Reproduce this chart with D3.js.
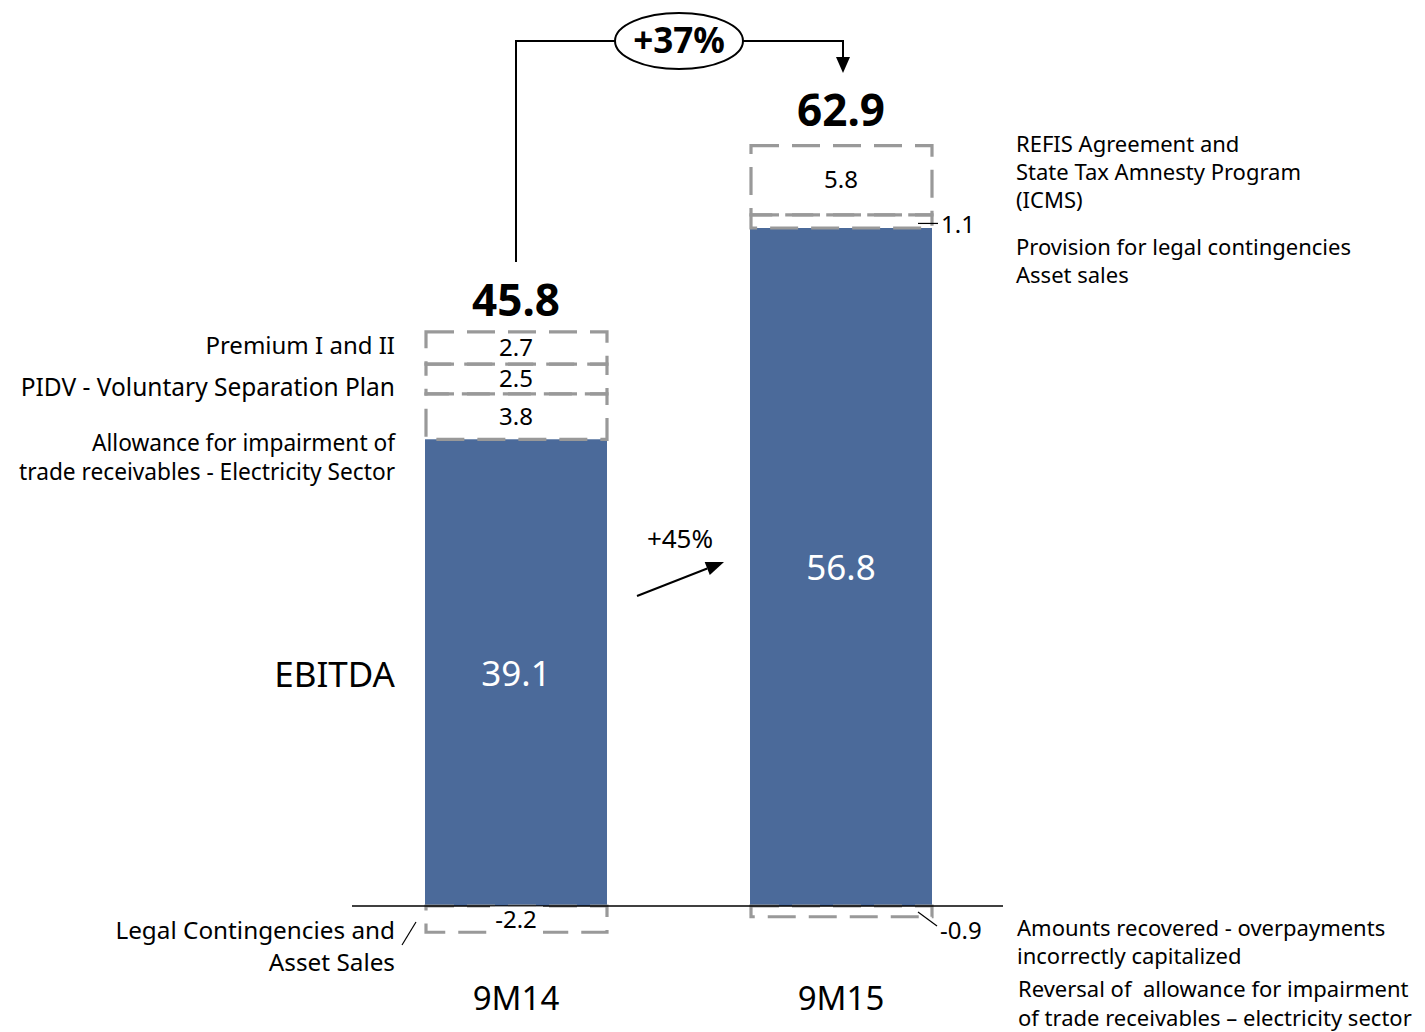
<!DOCTYPE html>
<html>
<head>
<meta charset="utf-8">
<script src="https://cdn.jsdelivr.net/npm/d3@7"></script>
<style>
  html, body { margin: 0; padding: 0; background: #fff; }
  svg { display: block; font-family: "Noto Sans", "Open Sans", sans-serif; }
  text { white-space: pre; }
</style>
</head>
<body>
<svg id="chart" width="1425" height="1032"></svg>
<script>
// Periods and EBITDA values (R$ billions)
const periods = ["9M14", "9M15"];
const ebitda = [39.1, 56.8];
const totals = [45.8, 62.9];
// Positive one-off items stacked above EBITDA, bottom to top
const upItems9M14 = [3.8, 2.5, 2.7];
const upItems9M15 = [1.1, 5.8];
// Negative one-off items below the baseline
const downItems = [-2.2, -0.9];
const growthTotal = "+37%";
const growthEbitda = "+45%";

const leftNotes = [
  { text: "Premium I and II", y: 354, size: 24 },
  { text: "PIDV - Voluntary Separation Plan", y: 396, size: 24.5 },
  { text: "Allowance for impairment of", y: 451, size: 22.7 },
  { text: "trade receivables - Electricity Sector", y: 480, size: 22.7 },
  { text: "Legal Contingencies and", y: 939, size: 24.3 },
  { text: "Asset Sales", y: 971, size: 24.3 }
];
const rightNotes = [
  { text: "REFIS Agreement and", y: 152, x: 1016 },
  { text: "State Tax Amnesty Program", y: 180, x: 1016 },
  { text: "(ICMS)", y: 208, x: 1016 },
  { text: "Provision for legal contingencies", y: 255, x: 1016 },
  { text: "Asset sales", y: 283, x: 1016 },
  { text: "Amounts recovered - overpayments", y: 936, x: 1017 },
  { text: "incorrectly capitalized", y: 964, x: 1017 },
  { text: "Reversal of  allowance for impairment", y: 997, x: 1018 },
  { text: "of trade receivables \u2013 electricity sector", y: 1026, x: 1018 }
];

const svg = d3.select("#chart");
const barColor = "#4b6a9a";
const dashColor = "#999999";
const dash = "28,13";
const barW = 182;

const x = d3.scalePoint().domain(periods).range([516, 841]);
const y = d3.scaleLinear().domain([0, 56.8]).range([906, 228]);

// EBITDA bars
svg.selectAll("rect.bar").data(periods).join("rect")
  .attr("class", "bar")
  .attr("x", d => x(d) - barW / 2)
  .attr("width", barW)
  .attr("y", (d, i) => y(ebitda[i]))
  .attr("height", (d, i) => y(0) - y(ebitda[i]))
  .attr("fill", barColor);

// Stacked dashed boxes for one-off items
function stackUp(items, base) {
  let acc = base;
  return items.map(v => { const s = { v, y0: acc, y1: acc + v }; acc += v; return s; });
}
const stacks = [stackUp(upItems9M14, ebitda[0]), stackUp(upItems9M15, ebitda[1])];

stacks.forEach((segs, i) => {
  const cx = x(periods[i]);
  svg.append("g").selectAll("rect").data(segs).join("rect")
    .attr("x", cx - barW / 2 + 1)
    .attr("width", barW - 1)
    .attr("y", d => y(d.y1))
    .attr("height", d => y(d.y0) - y(d.y1))
    .attr("fill", "none")
    .attr("stroke", dashColor)
    .attr("stroke-width", 3.2)
    .attr("stroke-dasharray", dash);
});

// Negative boxes below baseline
downItems.forEach((v, i) => {
  const cx = x(periods[i]);
  svg.append("rect")
    .attr("x", cx - barW / 2 + 1)
    .attr("width", barW - 1)
    .attr("y", y(0))
    .attr("height", y(v) - y(0))
    .attr("fill", "none")
    .attr("stroke", dashColor)
    .attr("stroke-width", 3.2)
    .attr("stroke-dasharray", dash);
});

// Baseline
svg.append("line")
  .attr("x1", 352).attr("x2", 1003)
  .attr("y1", y(0)).attr("y2", y(0))
  .attr("stroke", "#000").attr("stroke-width", 1.5);

// Segment labels, 9M14 stack (centered)
stacks[0].forEach(s => {
  svg.append("text")
    .attr("x", x(periods[0]))
    .attr("y", (y(s.y0) + y(s.y1)) / 2 + 8)
    .attr("text-anchor", "middle")
    .attr("font-size", 24)
    .text(s.v.toFixed(1));
});
// 9M15 stack: big item centered, small item with leader
{
  const big = stacks[1][1], small = stacks[1][0];
  svg.append("text")
    .attr("x", x(periods[1]))
    .attr("y", (y(big.y0) + y(big.y1)) / 2 + 8)
    .attr("text-anchor", "middle")
    .attr("font-size", 24)
    .text(big.v.toFixed(1));
  const ly = (y(small.y0) + y(small.y1)) / 2 + 2;
  svg.append("line")
    .attr("x1", x(periods[1]) + barW / 2 - 14).attr("x2", x(periods[1]) + barW / 2 + 6)
    .attr("y1", ly).attr("y2", ly)
    .attr("stroke", "#000").attr("stroke-width", 1.2);
  svg.append("text")
    .attr("x", x(periods[1]) + barW / 2 + 9)
    .attr("y", ly + 10)
    .attr("font-size", 24)
    .text(small.v.toFixed(1));
}

// Negative labels
{
  const cx = x(periods[0]);
  svg.append("rect")
    .attr("x", cx - 26).attr("y", y(0) + 0.5)
    .attr("width", 53).attr("height", 30)
    .attr("fill", "#fff");
  svg.append("text")
    .attr("x", cx).attr("y", y(downItems[0]) - 4)
    .attr("text-anchor", "middle")
    .attr("font-size", 24)
    .text(downItems[0].toFixed(1));
  svg.append("line")
    .attr("x1", 402).attr("y1", 945).attr("x2", 416).attr("y2", 922)
    .attr("stroke", "#000").attr("stroke-width", 1.2);

  const cx2 = x(periods[1]);
  svg.append("line")
    .attr("x1", cx2 + barW / 2 - 14).attr("y1", y(0) + 6)
    .attr("x2", cx2 + barW / 2 + 5).attr("y2", y(0) + 20)
    .attr("stroke", "#000").attr("stroke-width", 1.2);
  svg.append("text")
    .attr("x", cx2 + barW / 2 + 8).attr("y", 939)
    .attr("font-size", 24)
    .text(downItems[1].toFixed(1));
}

// EBITDA values inside bars
svg.selectAll("text.inbar").data(periods).join("text")
  .attr("class", "inbar")
  .attr("x", d => x(d))
  .attr("y", (d, i) => (y(0) + y(ebitda[i])) / 2 + 13)
  .attr("text-anchor", "middle")
  .attr("fill", "#fff")
  .attr("font-size", 35)
  .text((d, i) => ebitda[i].toFixed(1));

// Totals above stacks
svg.selectAll("text.total").data(periods).join("text")
  .attr("class", "total")
  .attr("x", d => x(d))
  .attr("y", (d, i) => [316, 126][i])
  .attr("text-anchor", "middle")
  .attr("font-weight", "bold")
  .attr("font-size", 44)
  .text((d, i) => totals[i].toFixed(1));

// Period labels
svg.selectAll("text.period").data(periods).join("text")
  .attr("class", "period")
  .attr("x", d => x(d))
  .attr("y", 1010)
  .attr("text-anchor", "middle")
  .attr("font-size", 33)
  .text(d => d);

// EBITDA row label
svg.append("text")
  .attr("x", 395).attr("y", 687)
  .attr("text-anchor", "end")
  .attr("font-size", 35)
  .text("EBITDA");

// Left notes
svg.append("g").selectAll("text").data(leftNotes).join("text")
  .attr("x", 395).attr("y", d => d.y)
  .attr("text-anchor", "end")
  .attr("font-size", d => d.size)
  .text(d => d.text);

// Right notes
svg.append("g").selectAll("text").data(rightNotes).join("text")
  .attr("x", d => d.x).attr("y", d => d.y)
  .attr("font-size", 22)
  .text(d => d.text);

// Total growth connector with ellipse
{
  const x0 = x(periods[0]), x1 = x(periods[1]) + 2;
  const ly = 41, ex = 679, rx = 64, ry = 28;
  svg.append("path")
    .attr("d", `M${x0},262 V${ly} H${ex - rx}`)
    .attr("fill", "none").attr("stroke", "#000").attr("stroke-width", 2);
  svg.append("path")
    .attr("d", `M${ex + rx},${ly} H${x1} V58`)
    .attr("fill", "none").attr("stroke", "#000").attr("stroke-width", 2);
  svg.append("path")
    .attr("d", `M${x1 - 7},57 L${x1 + 7},57 L${x1},73 Z`)
    .attr("fill", "#000");
  svg.append("ellipse")
    .attr("cx", ex).attr("cy", ly).attr("rx", rx).attr("ry", ry)
    .attr("fill", "#fff").attr("stroke", "#000").attr("stroke-width", 2);
  svg.append("text")
    .attr("x", ex).attr("y", ly + 12)
    .attr("text-anchor", "middle")
    .attr("font-weight", "bold")
    .attr("font-size", 35)
    .text(growthTotal);
}

// EBITDA growth arrow
{
  const ax0 = 637, ay0 = 596, ax1 = 724, ay1 = 562;
  const ang = Math.atan2(ay1 - ay0, ax1 - ax0);
  const hl = 18, hw = 7;
  const bx = ax1 - hl * Math.cos(ang), by = ay1 - hl * Math.sin(ang);
  svg.append("line")
    .attr("x1", ax0).attr("y1", ay0).attr("x2", bx).attr("y2", by)
    .attr("stroke", "#000").attr("stroke-width", 2);
  svg.append("path")
    .attr("d", `M${ax1},${ay1} L${bx - hw * Math.sin(ang)},${by + hw * Math.cos(ang)} L${bx + hw * Math.sin(ang)},${by - hw * Math.cos(ang)} Z`)
    .attr("fill", "#000");
  svg.append("text")
    .attr("x", 680).attr("y", 548)
    .attr("text-anchor", "middle")
    .attr("font-size", 26)
    .text(growthEbitda);
}
</script>
</body>
</html>
